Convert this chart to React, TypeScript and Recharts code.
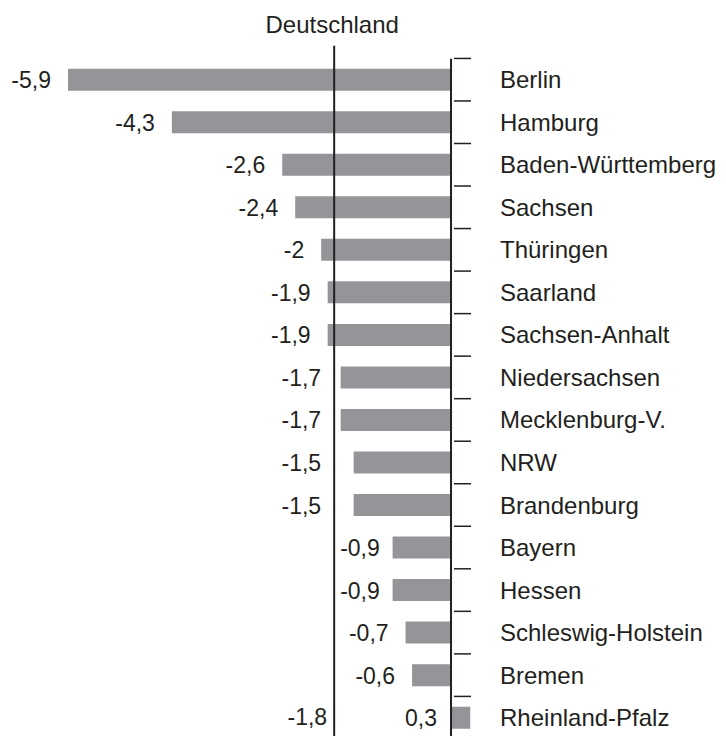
import React from 'react';
import { BarChart, Bar, XAxis, YAxis, ReferenceLine, LabelList } from 'recharts';

const regions = [
  'Berlin',
  'Hamburg',
  'Baden-Württemberg',
  'Sachsen',
  'Thüringen',
  'Saarland',
  'Sachsen-Anhalt',
  'Niedersachsen',
  'Mecklenburg-V.',
  'NRW',
  'Brandenburg',
  'Bayern',
  'Hessen',
  'Schleswig-Holstein',
  'Bremen',
  'Rheinland-Pfalz',
];
const changes = [-5.9, -4.3, -2.6, -2.4, -2, -1.9, -1.9, -1.7, -1.7, -1.5, -1.5, -0.9, -0.9, -0.7, -0.6, 0.3];
const germany = -1.8;
const germanyLabel = 'Deutschland';
const xDomain: [number, number] = [-5.9, 0.3];

const W = 726;
const H = 760;
const MARGIN = { top: 58.7, right: 255.5, bottom: 20.8, left: 68 };
const BAND = (H - MARGIN.top - MARGIN.bottom) / regions.length;

const INK = '#231f20';
const GREY = '#939598';
const FONT = '"Liberation Sans", Arial, Helvetica, sans-serif';
const VALUE_SIZE = 23;

const fmt = (v: number) => String(v).replace('.', ',');

// rough advance width of a number label (Arial metrics)
const textWidth = (s: string) =>
  [...s].reduce((w, c) => w + (c === ',' ? 0.278 : c === '-' ? 0.333 : 0.556), 0) * VALUE_SIZE;

const rows = regions.map((name, i) => ({ name, value: changes[i] }));

// value on the left, region name on the right, tick at the top of each band
function RowLabels(props: any) {
  const vb = props.viewBox ?? props;
  const i = regions.indexOf(props.value);
  if (i < 0 || !vb) return null;
  const v = changes[i];
  const label = fmt(v);
  const left = Math.min(vb.x, vb.x + vb.width);
  const right = Math.max(vb.x, vb.x + vb.width);
  const zero = v < 0 ? right : left;
  const pxPerUnit = (right - left) / Math.abs(v);
  const germanyX = zero + germany * pxPerUnit;
  const cy = vb.y + Math.abs(vb.height) / 2;

  let valueEnd = zero - 14;
  if (v < 0) {
    valueEnd = left - 17;
    const start = valueEnd - textWidth(label);
    if (left > germanyX) {
      // keep clear of the Deutschland line: either fully right of it or fully left
      if (left - germanyX > textWidth(label) + 12) valueEnd = Math.max(valueEnd, germanyX + 6 + textWidth(label));
      else valueEnd = germanyX - 13;
    } else if (valueEnd > germanyX - 13 || (start < germanyX && valueEnd > germanyX)) {
      valueEnd = germanyX - 13;
    }
  }
  const tickY = cy - BAND / 2;
  return (
    <g>
      <line x1={zero + 3} x2={zero + 20} y1={tickY} y2={tickY} stroke={INK} strokeWidth={1.5} />
      <text x={valueEnd} y={cy + 8.5} textAnchor="end" fontSize={VALUE_SIZE} fontFamily={FONT} fill={INK}>
        {label}
      </text>
      <text x={zero + 49} y={cy + 8.5} textAnchor="start" fontSize={24} fontFamily={FONT} fill={INK}>
        {regions[i]}
      </text>
    </g>
  );
}

function GermanyLine(p: any) {
  const top = Math.min(p.y1, p.y2);
  const bottom = Math.max(p.y1, p.y2);
  const x = p.x1;
  return (
    <g>
      <line x1={x} x2={x} y1={top - 13} y2={bottom} stroke={INK} strokeWidth={2} />
      <text x={x - 2} y={top - 25.4} textAnchor="middle" fontSize={24} fontFamily={FONT} fill={INK}>
        {germanyLabel}
      </text>
      <text x={x - 7} y={bottom - 14} textAnchor="end" fontSize={VALUE_SIZE} fontFamily={FONT} fill={INK}>
        {fmt(germany)}
      </text>
    </g>
  );
}

export default function App() {
  return (
    <div
      style={{
        position: 'absolute',
        left: 0,
        top: 0,
        width: 726,
        height: 736,
        overflow: 'hidden',
        background: '#fff',
      }}
    >
      <BarChart width={W} height={H} data={rows} layout="vertical" margin={MARGIN}>
        <XAxis type="number" domain={xDomain} allowDataOverflow hide />
        <YAxis type="category" dataKey="name" hide />
        <Bar dataKey="value" fill={GREY} barSize={22} isAnimationActive={false}>
          <LabelList dataKey="name" content={RowLabels} />
        </Bar>
        <ReferenceLine x={0} stroke={INK} strokeWidth={2} />
        <ReferenceLine x={germany} stroke={INK} strokeWidth={2} shape={GermanyLine} />
      </BarChart>
    </div>
  );
}
